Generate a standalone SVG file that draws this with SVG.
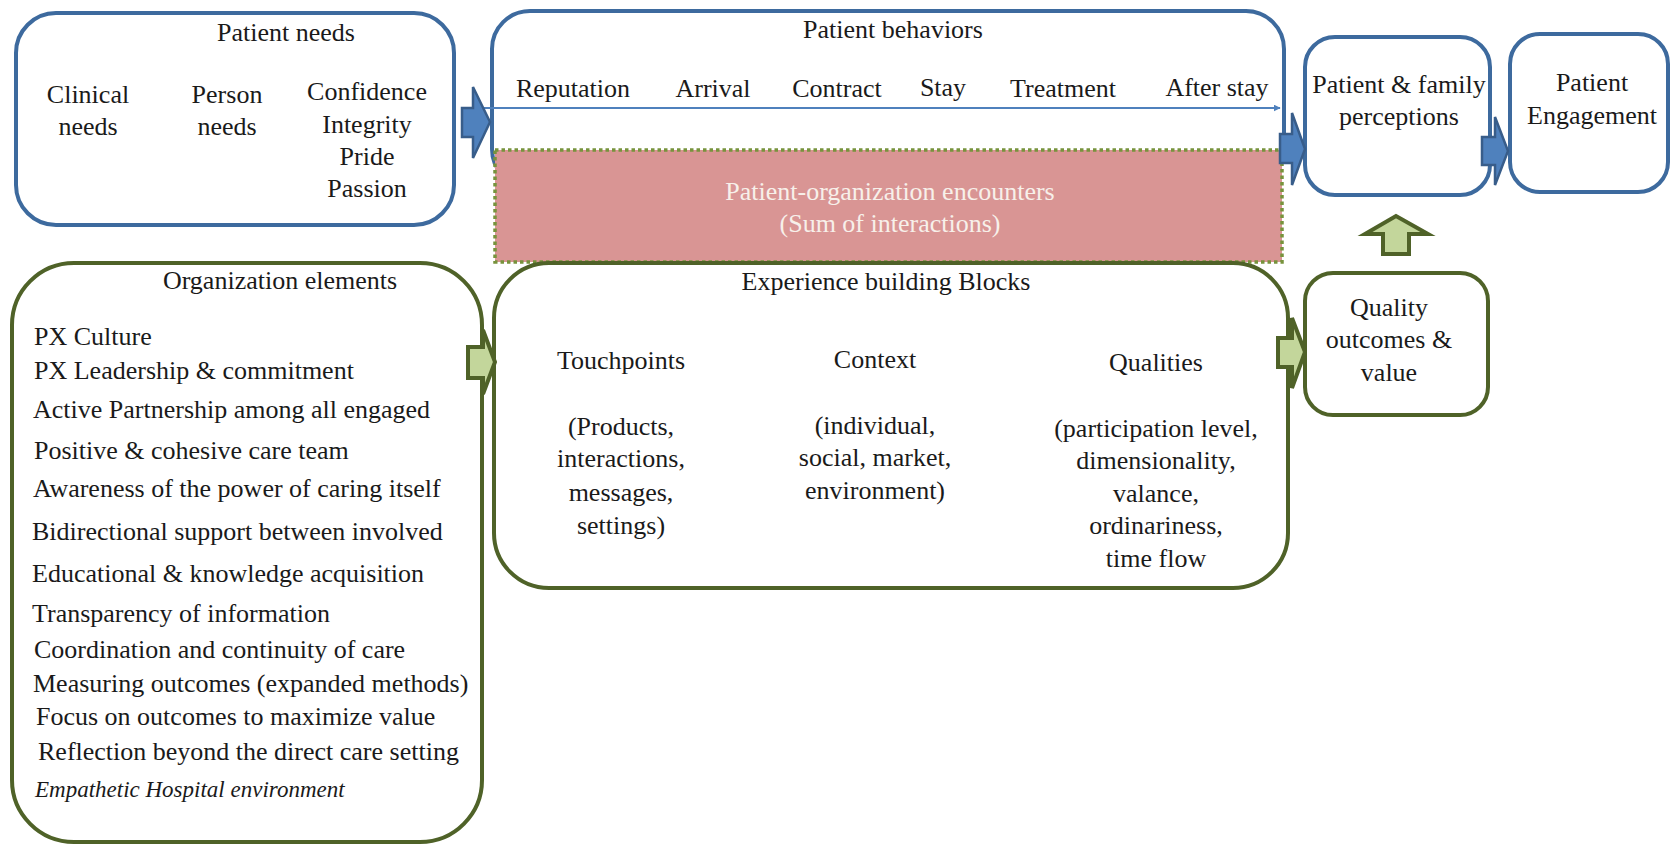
<svg xmlns="http://www.w3.org/2000/svg" width="1671" height="844" viewBox="0 0 1671 844">
  <style>
    text { font-family: "Liberation Serif", "Times New Roman", "DejaVu Serif", serif; font-size: 26px; fill: #1a1a1a; }
    .c { text-anchor: middle; }
    .it { font-style: italic; font-size: 23px; }
    .light { fill: #f7f0ea; }
    .boxB { fill: #ffffff; stroke: #3d6a9e; stroke-width: 4; }
    .boxG { fill: #ffffff; stroke: #4f6228; stroke-width: 4; }
    .arrB { fill: #4f81bd; stroke: #385d8a; stroke-width: 2.5; stroke-linejoin: miter; }
    .arrG { fill: #c3d69b; stroke: #4f6228; stroke-width: 4; stroke-linejoin: miter; }
  </style>
  <defs>
    <marker id="thinHead" viewBox="0 0 10 10" refX="9" refY="5" markerWidth="7" markerHeight="7" orient="auto" markerUnits="userSpaceOnUse">
      <path d="M0,0 L10,5 L0,10 Z" fill="#4f81bd"/>
    </marker>
  </defs>
  <rect x="0" y="0" width="1671" height="844" fill="#ffffff"/>

  <!-- Patient needs -->
  <g id="patient-needs">
    <rect class="boxB" x="16" y="13" width="438" height="212" rx="40"/>
    <text class="c" x="286" y="41">Patient needs</text>
    <text class="c" x="88" y="103">Clinical</text>
    <text class="c" x="88" y="135">needs</text>
    <text class="c" x="227" y="103">Person</text>
    <text class="c" x="227" y="135">needs</text>
    <text class="c" x="367" y="100">Confidence</text>
    <text class="c" x="367" y="133">Integrity</text>
    <text class="c" x="367" y="165">Pride</text>
    <text class="c" x="367" y="197">Passion</text>
  </g>

  <!-- Patient behaviors -->
  <g id="patient-behaviors">
    <rect class="boxB" x="492" y="11" width="792" height="176" rx="38"/>
    <text class="c" x="893" y="38">Patient behaviors</text>
    <text class="c" x="573" y="97">Reputation</text>
    <text class="c" x="713" y="97">Arrival</text>
    <text class="c" x="837" y="97">Contract</text>
    <text class="c" x="943" y="96">Stay</text>
    <text class="c" x="1063" y="97">Treatment</text>
    <text class="c" x="1217" y="96">After stay</text>
  </g>

  <!-- Patient-organization encounters -->
  <g id="encounters">
    <rect x="495" y="150" width="787" height="112" fill="#d99594" stroke="#77933c" stroke-width="3.5" stroke-dasharray="3.5 3"/>
    <text class="c light" x="890" y="200">Patient-organization encounters</text>
    <text class="c light" x="890" y="232">(Sum of interactions)</text>
  </g>

  <!-- Patient & family perceptions -->
  <g id="perceptions">
    <rect class="boxB" x="1305" y="37" width="185" height="158" rx="30"/>
    <text class="c" x="1399" y="93">Patient &amp; family</text>
    <text class="c" x="1399" y="125">perceptions</text>
  </g>

  <!-- Patient Engagement -->
  <g id="engagement">
    <rect class="boxB" x="1510" y="34" width="158" height="158" rx="30"/>
    <text class="c" x="1592" y="91">Patient</text>
    <text class="c" x="1592" y="124">Engagement</text>
  </g>

  <!-- Organization elements -->
  <g id="organization-elements">
    <rect class="boxG" x="12" y="263" width="470" height="579" rx="62"/>
    <text class="c" x="280" y="289">Organization elements</text>
    <text x="34" y="345">PX Culture</text>
    <text x="34" y="379">PX Leadership &amp; commitment</text>
    <text x="33" y="418">Active Partnership among all engaged</text>
    <text x="34" y="459">Positive &amp; cohesive care team</text>
    <text x="33" y="497">Awareness of the power of caring itself</text>
    <text x="32" y="540">Bidirectional support between involved</text>
    <text x="32" y="582">Educational &amp; knowledge acquisition</text>
    <text x="32" y="622">Transparency of information</text>
    <text x="34" y="658">Coordination and continuity of care</text>
    <text x="33" y="692">Measuring outcomes (expanded methods)</text>
    <text x="36" y="725">Focus on outcomes to maximize value</text>
    <text x="38" y="760">Reflection beyond the direct care setting</text>
    <text class="it" x="35" y="797">Empathetic Hospital environment</text>
  </g>

  <!-- Experience building Blocks -->
  <g id="experience-blocks">
    <rect class="boxG" x="494" y="263" width="794" height="325" rx="55"/>
    <text class="c" x="886" y="290">Experience building Blocks</text>
    <text class="c" x="621" y="369">Touchpoints</text>
    <text class="c" x="621" y="435">(Products,</text>
    <text class="c" x="621" y="467">interactions,</text>
    <text class="c" x="621" y="501">messages,</text>
    <text class="c" x="621" y="534">settings)</text>
    <text class="c" x="875" y="368">Context</text>
    <text class="c" x="875" y="434">(individual,</text>
    <text class="c" x="875" y="466">social, market,</text>
    <text class="c" x="875" y="499">environment)</text>
    <text class="c" x="1156" y="371">Qualities</text>
    <text class="c" x="1156" y="437">(participation level,</text>
    <text class="c" x="1156" y="469">dimensionality,</text>
    <text class="c" x="1156" y="502">valance,</text>
    <text class="c" x="1156" y="534">ordinariness,</text>
    <text class="c" x="1156" y="567">time flow</text>
  </g>

  <!-- Quality outcomes & value -->
  <g id="quality-outcomes">
    <rect class="boxG" x="1305" y="273" width="183" height="142" rx="28"/>
    <text class="c" x="1389" y="316">Quality</text>
    <text class="c" x="1389" y="348">outcomes &amp;</text>
    <text class="c" x="1389" y="381">value</text>
  </g>

  <!-- Connectors -->
  <g id="connectors">
    <line x1="483" y1="108" x2="1280" y2="108" stroke="#4f81bd" stroke-width="2" marker-end="url(#thinHead)"/>
    <path class="arrB" d="M462,108 L473,108 L473,87 L490,122 L473,158 L473,137 L462,137 Z"/>
    <path class="arrB" d="M1280,134 L1292,134 L1292,113 L1305,149 L1292,185 L1292,163 L1280,163 Z"/>
    <path class="arrB" d="M1482,137 L1495,137 L1495,117 L1508,151 L1495,185 L1495,165 L1482,165 Z"/>
    <path class="arrG" d="M468,347 L483,347 L483,330 L495,362 L483,394 L483,378 L468,378 Z"/>
    <path class="arrG" d="M1278,338 L1292,338 L1292,318 L1305,352 L1292,388 L1292,367 L1278,367 Z"/>
    <path class="arrG" stroke-width="3.5" d="M1383,254 L1383,234 L1365,234 L1396,216 L1428,234 L1409,234 L1409,254 Z"/>
  </g>
</svg>
